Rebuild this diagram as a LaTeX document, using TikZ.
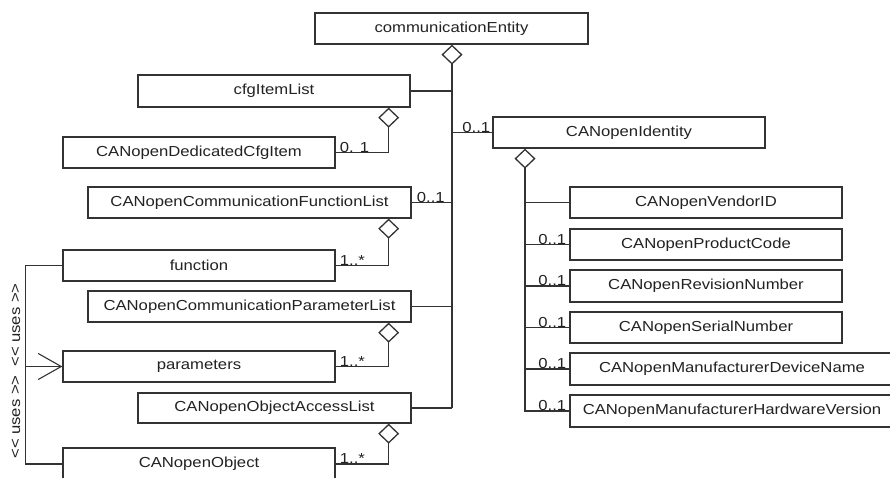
\documentclass[tikz,border=0pt]{standalone}
\usepackage{fontspec}
\setmainfont[FakeStretch=1.15]{Liberation Sans}
\usetikzlibrary{arrows.meta}
\definecolor{ln}{HTML}{333333}
\definecolor{tx}{HTML}{222222}
\begin{document}
\begin{tikzpicture}[x=1pt,y=-1pt,
  cls/.style={draw=ln,line width=1.3pt,fill=white,inner sep=0pt,minimum height=31pt,font=\fontsize{14.5}{16}\selectfont,text=tx},
  mult/.style={font=\fontsize{14.5}{16}\selectfont,text=tx,inner sep=1pt},
  conn/.style={draw=ln,line width=1.3pt},
  agg/.style={conn,{Diamond[open,length=20pt,width=21pt,line width=1.3pt]}-},
  every node/.style={}]
\useasboundingbox (0,0) rectangle (890,478);
% left column classes
\node[cls,minimum width=273pt] (ce) at (451.5,28.5) {communicationEntity};
\node[cls,minimum width=272pt,minimum height=32pt] (cil) at (274,91) {cfgItemList};
\node[cls,minimum width=272pt] (dci) at (199,152.5) {CANopenDedicatedCfgItem};
\node[cls,minimum width=323pt] (cfl) at (249.5,202.5) {CANopenCommunicationFunctionList};
\node[cls,minimum width=272pt] (fn) at (199,265.5) {function};
\node[cls,minimum width=323pt] (cpl) at (249.5,306.5) {CANopenCommunicationParameterList};
\node[cls,minimum width=272pt] (par) at (199,366.5) {parameters};
\node[cls,minimum width=273pt,minimum height=30pt] (oal) at (274.5,408) {CANopenObjectAccessList};
\node[cls,minimum width=272pt,minimum height=32pt] (obj) at (199,464) {CANopenObject};
% right column classes
\node[cls,minimum width=272pt] (cid) at (629,132.5) {CANopenIdentity};
\node[cls,minimum width=272pt] (vid) at (706,202.5) {CANopenVendorID};
\node[cls,minimum width=272pt] (pc) at (706,244.5) {CANopenProductCode};
\node[cls,minimum width=272pt,minimum height=32pt] (rn) at (706,286) {CANopenRevisionNumber};
\node[cls,minimum width=272pt] (sn) at (706,327.5) {CANopenSerialNumber};
\node[cls,minimum width=324pt,minimum height=32pt] (mdn) at (732,369) {CANopenManufacturerDeviceName};
\node[cls,minimum width=324pt,minimum height=32pt] (mhv) at (732,411) {CANopenManufacturerHardwareVersion};
% main trunk
\coordinate (tr) at ([xshift=0.5pt]ce.south);
\draw[agg] (tr) -- (tr |- oal.east);
\draw[conn] (cil.east) -- (cil.east -| tr);
\draw[conn] (cid.west) -- (cid.west -| tr);
\draw[conn] (cfl.east) -- (cfl.east -| tr);
\draw[conn] (cpl.east) -- (cpl.east -| tr);
\draw[conn] (oal.east) -- (oal.east -| tr);
\node[mult,anchor=south east] at ([xshift=-1pt,yshift=-1pt]cid.west) {0..1};
\node[mult,anchor=south west] at ([xshift=4pt,yshift=-1pt]cfl.east) {0..1};
% sub aggregations
\draw[agg] ([xshift=-22pt]cil.south east) |- (dci.east);
\node[mult,anchor=south west] at ([xshift=3pt,yshift=-1pt]dci.east) {0. 1};
\draw[agg] ([xshift=-23pt]cfl.south east) |- (fn.east);
\node[mult,anchor=south west] at ([xshift=3pt,yshift=-1pt]fn.east) {1..*};
\draw[agg] ([xshift=-23pt]cpl.south east) |- (par.east);
\node[mult,anchor=south west] at ([xshift=3pt,yshift=-1pt]par.east) {1..*};
\draw[agg] ([xshift=-23pt]oal.south east) |- (obj.east);
\node[mult,anchor=south west] at ([xshift=3pt,yshift=-1pt]obj.east) {1..*};
% identity
\coordinate (idd) at ([xshift=-104pt]cid.south);
\draw[agg] (idd) -- (idd |- mhv.west) -- (mhv.west);
\draw[conn] (vid.west) -- (vid.west -| idd);
\draw[conn] (pc.west) -- (pc.west -| idd);
\draw[conn] (rn.west) -- (rn.west -| idd);
\draw[conn] (sn.west) -- (sn.west -| idd);
\draw[conn] (mdn.west) -- (mdn.west -| idd);
\foreach \n in {pc,rn,sn,mdn,mhv}
  \node[mult,anchor=south east] at ([xshift=-2pt,yshift=-1pt]\n.west) {0..1};
% uses
\coordinate (ux) at ([xshift=-37pt]fn.west);
\draw[conn] (fn.west) -- (ux) |- (obj.west);
\draw[conn,-{Straight Barb[length=23pt,width=26pt,line width=1.1pt]}] (ux |- par.west) -- (par.west);
\node[rotate=90,mult] at (16,325) {<\kern0pt< uses >\kern0pt>};
\node[rotate=90,mult] at (16,417) {<\kern0pt< uses >\kern0pt>};
\end{tikzpicture}
\end{document}
